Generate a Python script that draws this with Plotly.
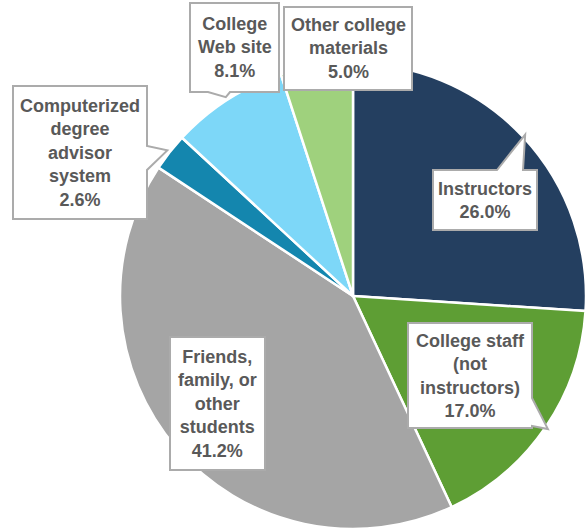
import math
import plotly.graph_objects as go

# Where students get advising information (share of responses, %)
labels = ["Instructors", "College staff (not instructors)", "Friends, family, or other students",
          "Computerized degree advisor system", "College Web site", "Other college materials"]
label_lines = ["Instructors", "College staff<br>(not<br>instructors)", "Friends,<br>family, or<br>other<br>students",
               "Computerized<br>degree<br>advisor<br>system", "College<br>Web site", "Other college<br>materials"]
values = [26.0, 17.0, 41.2, 2.6, 8.1, 5.0]
colors = ["#243F60", "#5E9E34", "#A5A5A5", "#1486AE", "#7DD7F8", "#9FD17D"]

W, H = 588, 529
dom_x = [120 / W, 586 / W]
dom_y = [0.0, 466 / H]

# callout boxes in pixels: (left, top, right, bottom), tail edge and tail base span
boxes = [
    ((433, 170, 537, 230), "top", (497, 523)),
    ((408, 323, 532, 428), "right", (398, 426)),
    ((170, 337, 265, 470), None, None),
    ((13, 86, 147, 219), "right", (146, 170)),
    ((190, 3, 279, 92), "bottom", (208, 230)),
    ((284, 7, 412, 90), None, None),
]

# pie geometry in pixels (from the domain, margins are zero)
cx = (dom_x[0] + dom_x[1]) / 2 * W
cy = H - (dom_y[0] + dom_y[1]) / 2 * H
rad = min((dom_x[1] - dom_x[0]) * W, (dom_y[1] - dom_y[0]) * H) / 2
total = sum(values)


def px(x, y):
    return x / W, 1 - y / H


def callout_path(box, edge, span, tip):
    l, t, r, b = box
    pts = [(l, t)]
    if edge == "top":
        pts += [(span[0], t), tip, (span[1], t)]
    pts.append((r, t))
    if edge == "right":
        pts += [(r, span[0]), tip, (r, span[1])]
    pts.append((r, b))
    if edge == "bottom":
        pts += [(span[1], b), tip, (span[0], b)]
    pts.append((l, b))
    if edge == "left":
        pts += [(l, span[1]), tip, (l, span[0])]
    coords = [px(x, y) for x, y in pts]
    return "M " + " L ".join(f"{x:.5f},{y:.5f}" for x, y in coords) + " Z"


fig = go.Figure(go.Pie(
    labels=labels, values=values, sort=False, direction="clockwise", rotation=0,
    marker=dict(colors=colors, line=dict(color="white", width=2.5)),
    textinfo="none", hoverinfo="label+percent", showlegend=False,
    domain=dict(x=dom_x, y=dom_y),
))

shapes, annotations = [], []
cum = 0.0
for lab, val, (box, edge, span) in zip(label_lines, values, boxes):
    mid = (cum + val / 2) / total * 2 * math.pi
    cum += val
    tip = (cx + (rad + 3) * math.sin(mid), cy - (rad + 3) * math.cos(mid))
    shapes.append(dict(type="path", xref="paper", yref="paper",
                       path=callout_path(box, edge, span, tip),
                       fillcolor="white", line=dict(color="#ABABAB", width=2), layer="above"))
    l, t, r, b = box
    ax, ay = px((l + r) / 2, (t + b) / 2)
    annotations.append(dict(
        x=ax, y=ay, xref="paper", yref="paper", xanchor="center", yanchor="middle",
        text=f"{lab}<br>{val:.1f}%", showarrow=False, align="center",
        font=dict(family="Liberation Sans, Arial, sans-serif", size=18, color="#595959", weight="bold"),
    ))

fig.update_layout(
    width=W, height=H, margin=dict(l=0, r=0, t=0, b=0),
    paper_bgcolor="white", plot_bgcolor="white",
    shapes=shapes, annotations=annotations,
)

fig.write_html("out.html")
